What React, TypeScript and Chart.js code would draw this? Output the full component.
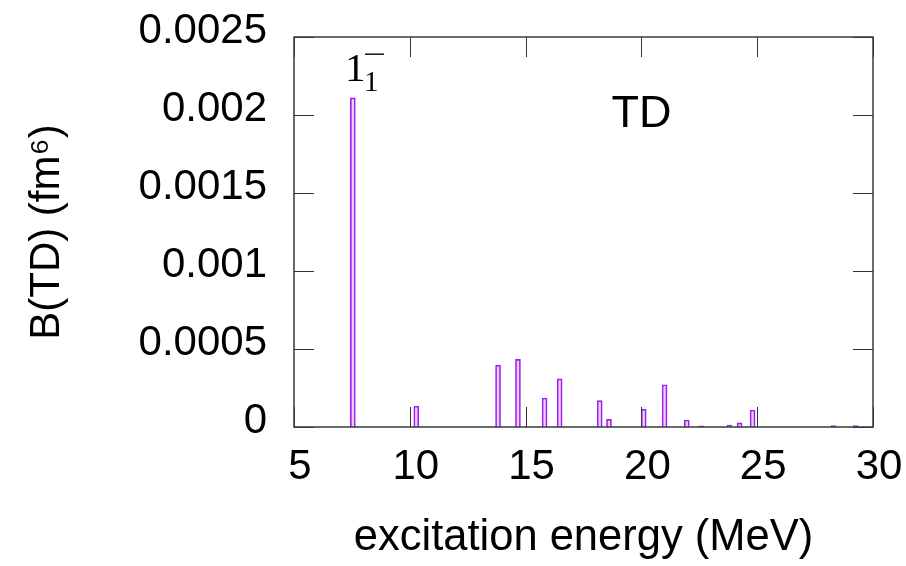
import React, { useEffect, useRef } from 'react';
import { Chart, registerables } from 'chart.js';

Chart.register(...registerables);

// ---- data ----
const energies = [7.54, 10.28, 13.81, 14.67, 15.82, 16.47, 18.2, 18.6, 20.1, 21.0, 21.96, 22.59, 23.8, 24.24, 24.8, 28.3, 29.25];
const strengths = [0.00211, 0.000133, 0.000397, 0.000434, 0.000186, 0.000308, 0.000169, 0.000049, 0.000115, 0.000271, 0.000045, 0.000008, 0.000013, 0.000026, 0.000109, 0.000009, 0.000009];
const xTicks = [5, 10, 15, 20, 25, 30];
const yTicks = [0, 0.0005, 0.001, 0.0015, 0.002, 0.0025];
const xTitle = 'excitation energy (MeV)';
const yTitle = 'B(TD) (fm⁶)';
const panelLabel = 'TD';
const panelLabelPos = [20, 0.002];
const stateLabelMain = '1';
const stateLabelSub = '1';
const stateLabelPos = [7.2, 0.00222];

const SANS = '"Liberation Sans", Arial, sans-serif';
const SERIF = '"Liberation Serif", "Times New Roman", serif';

const framePlugin = {
  id: 'frame',
  afterDatasetsDraw(chart: any) {
    const { ctx, chartArea, scales } = chart;
    const { left, right, top, bottom } = chartArea;
    const x = scales.x;
    const y = scales.y;
    ctx.save();
    ctx.strokeStyle = '#333';
    ctx.lineWidth = 1;
    ctx.beginPath();
    x.ticks.forEach((t: any) => {
      const px = Math.round(x.getPixelForValue(t.value)) + 0.5;
      ctx.moveTo(px, bottom);
      ctx.lineTo(px, bottom - 20);
      ctx.moveTo(px, top);
      ctx.lineTo(px, top + 20);
    });
    y.ticks.forEach((t: any) => {
      const py = Math.round(y.getPixelForValue(t.value)) + 0.5;
      ctx.moveTo(left, py);
      ctx.lineTo(left + 20, py);
      ctx.moveTo(right, py);
      ctx.lineTo(right - 20, py);
    });
    ctx.stroke();
    ctx.lineWidth = 1.5;
    ctx.strokeStyle = '#3a3a3a';
    ctx.strokeRect(left, top, right - left, bottom - top);

    // panel label
    ctx.fillStyle = '#000';
    ctx.font = `45px ${SANS}`;
    ctx.textAlign = 'center';
    ctx.textBaseline = 'middle';
    ctx.fillText(panelLabel, x.getPixelForValue(panelLabelPos[0]), y.getPixelForValue(panelLabelPos[1]));

    // state label 1_1^-
    const sx = x.getPixelForValue(stateLabelPos[0]);
    const sy = y.getPixelForValue(stateLabelPos[1]);
    ctx.textAlign = 'left';
    ctx.textBaseline = 'alphabetic';
    ctx.font = `41px ${SERIF}`;
    ctx.fillText(stateLabelMain, sx, sy);
    ctx.font = `29px ${SERIF}`;
    ctx.fillText(stateLabelSub, sx + 19, sy + 10);
    ctx.beginPath();
    ctx.lineWidth = 1.4;
    ctx.strokeStyle = '#000';
    ctx.moveTo(sx + 20, sy - 26.5);
    ctx.lineTo(sx + 39, sy - 26.5);
    ctx.stroke();
    ctx.restore();
  },
};

export default function App() {
  const ref = useRef<HTMLCanvasElement | null>(null);
  useEffect(() => {
    if (!ref.current) return;
    const chart = new Chart(ref.current, {
      type: 'bar',
      data: {
        datasets: [
          {
            data: energies.map((e, i) => ({ x: e, y: strengths[i] })),
            backgroundColor: 'rgba(160,32,240,0.22)',
            borderColor: '#a020f0',
            borderWidth: 1,
            barThickness: 5,
          } as any,
        ],
      },
      options: {
        animation: false,
        responsive: false,
        layout: { padding: { top: 37, right: 33, left: 0, bottom: 0 } },
        plugins: { legend: { display: false }, tooltip: { enabled: false } },
        scales: {
          x: {
            type: 'linear',
            min: 5,
            max: 30,
            offset: false,
            grid: { display: false, drawTicks: false },
            border: { display: false },
            afterBuildTicks: (s: any) => {
              s.ticks = xTicks.map((v) => ({ value: v }));
            },
            ticks: {
              font: { family: SANS, size: 42 },
              color: '#000',
              padding: 15,
              labelOffset: 6,
              maxRotation: 0,
              autoSkip: false,
              callback: (v: any) => String(v),
            },
            title: {
              display: true,
              text: xTitle,
              color: '#000',
              font: { family: SANS, size: 43.5 },
              padding: { top: 0, bottom: 2 },
            },
            afterFit: (s: any) => {
              s.height = 139;
              s.paddingLeft = 0;
              s.paddingRight = 0;
            },
          } as any,
          y: {
            type: 'linear',
            min: 0,
            max: 0.0025,
            grid: { display: false, drawTicks: false },
            border: { display: false },
            afterBuildTicks: (s: any) => {
              s.ticks = yTicks.map((v) => ({ value: v }));
            },
            ticks: {
              font: { family: SANS, size: 42 },
              color: '#000',
              padding: 27,
              labelOffset: -6,
              autoSkip: false,
              callback: (v: any) => String(parseFloat(Number(v).toFixed(4))),
            },
            title: {
              display: true,
              text: yTitle,
              color: '#000',
              font: { family: SANS, size: 42 },
              padding: { top: 22, bottom: 0 },
            },
            afterFit: (s: any) => {
              s.width = 294;
              s.paddingTop = 0;
              s.paddingBottom = 0;
              s.paddingLeft = 0;
              s.paddingRight = 0;
            },
          } as any,
        },
      },
      plugins: [framePlugin],
    });
    return () => chart.destroy();
  }, []);
  return (
    <div style={{ position: 'absolute', left: 0, top: 0, width: 906, height: 566, background: '#fff' }}>
      <canvas ref={ref} width={906} height={566} style={{ display: 'block' }} />
    </div>
  );
}
